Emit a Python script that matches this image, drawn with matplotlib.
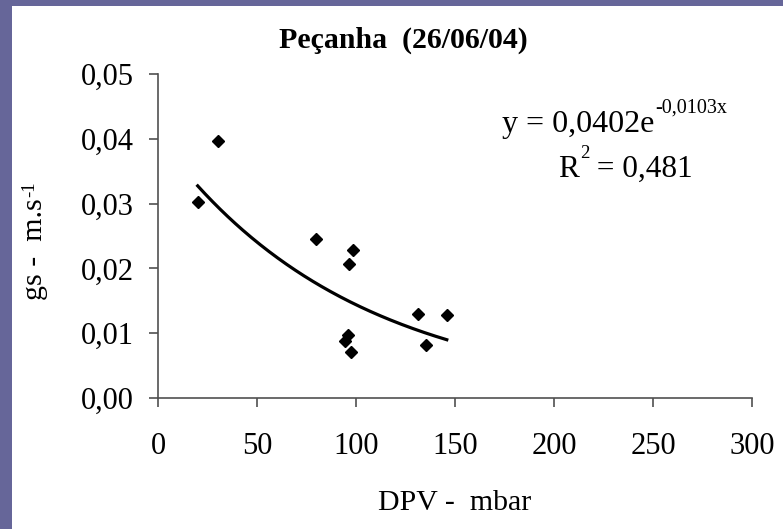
import numpy as np
import matplotlib.pyplot as plt
from matplotlib.patches import Rectangle

plt.rcParams['font.family'] = ['Liberation Serif', 'DejaVu Serif']

# Vapour pressure deficit (mbar) and stomatal conductance (m/s)
dpv = [19.9, 30.3, 79.5, 98.5, 96.5, 95.7, 94.3, 97.3, 131.3, 135.2, 145.7]
gs = [0.0302, 0.0397, 0.0246, 0.0229, 0.0206, 0.0097, 0.0087, 0.0070,
      0.0130, 0.0082, 0.0128]

# Exponential trend line y = a * exp(b * x)
fit_a = 0.0402
fit_b = -0.0103
fit_r2 = 0.481

x_ticks = [0, 50, 100, 150, 200, 250, 300]
y_ticks = [0.00, 0.01, 0.02, 0.03, 0.04, 0.05]

W, H = 783, 529
fig = plt.figure(figsize=(W / 100, H / 100), dpi=100)
fig.patch.set_facecolor('#666699')
fig.add_artist(Rectangle((12 / W, 0), 1 - 12 / W, 1 - 6 / H,
                         transform=fig.transFigure, facecolor='white',
                         edgecolor='none', zorder=0))

ax = fig.add_axes([158.3 / W, 1 - 397.7 / H, (752.3 - 158.3) / W, (397.7 - 74.3) / H])
ax.set_facecolor('none')

xs = np.linspace(min(dpv), max(dpv), 200)
ax.plot(xs, fit_a * np.exp(fit_b * xs), color='black', lw=2.3, zorder=2)
ax.plot(dpv, gs, linestyle='none', marker='D', markersize=6.2,
        color='black', zorder=3, clip_on=False)

ax.set_xlim(0, 300)
ax.set_ylim(0, 0.05)
ax.set_xticks(x_ticks)
ax.set_yticks(y_ticks)
ax.set_xticklabels([str(v) for v in x_ticks])
ax.set_yticklabels([f"{v:.2f}".replace('.', ',') for v in y_ticks])

for side in ('top', 'right'):
    ax.spines[side].set_visible(False)
for side in ('left', 'bottom'):
    ax.spines[side].set_color('#505050')
    ax.spines[side].set_linewidth(1.2)

ax.tick_params(axis='both', direction='out', length=6.8, width=1.2,
               color='#505050', labelsize=22, labelcolor='black')
ax.tick_params(axis='x', pad=18)
ax.tick_params(axis='y', pad=11)

fig.text(403 / W, 1 - 47.7 / H, 'Peçanha  (26/06/04)', ha='center',
         va='baseline', fontsize=21.5, fontweight='bold')
fig.text(455 / W, 1 - 510 / H, 'DPV -  mbar', ha='center', va='baseline',
         fontsize=21.5)

renderer = fig.canvas.get_renderer()


def px_text(x, y, s, size, **kw):
    """Place text at pixel position (x from left, y from top)."""
    return fig.text(x / W, 1 - y / H, s, fontsize=size, **kw)


def width_px(t):
    bb = t.get_window_extent(renderer)
    return bb.width, bb.height


def dec(v, n):
    return f"{v:.{n}f}".replace('.', ',')


# Trend equation with superscript exponent
x0, base_y, rise = 502, 131.7, 19
t = px_text(x0, base_y, f"y = {dec(fit_a, 4)}e", 23, ha='left', va='baseline')
w, _ = width_px(t)
px_text(x0 + w + 1, base_y - rise, f"{dec(fit_b, 4)}x", 14.5, ha='left', va='baseline')

# Coefficient of determination
x1, base_y2 = 558, 177
t = px_text(x1, base_y2, "R", 22.5, ha='left', va='baseline')
w, _ = width_px(t)
s = px_text(x1 + w + 1, base_y2 - rise, "2", 13.5, ha='left', va='baseline')
w2, _ = width_px(s)
px_text(x1 + w + w2 + 1, base_y2, " = " + dec(fit_r2, 3), 22.5, ha='left', va='baseline')

# Rotated y-axis label with superscript unit exponent
lx, ly = 42, 300
t = px_text(lx, ly, "gs -  m.s", 21.5, rotation=90, rotation_mode='anchor',
            ha='left', va='baseline')
_, h = width_px(t)
px_text(lx - 8, ly - h - 1, "-1", 13.5, rotation=90, rotation_mode='anchor',
        ha='left', va='baseline')

fig.savefig('out.png', dpi=100, facecolor=fig.get_facecolor())
